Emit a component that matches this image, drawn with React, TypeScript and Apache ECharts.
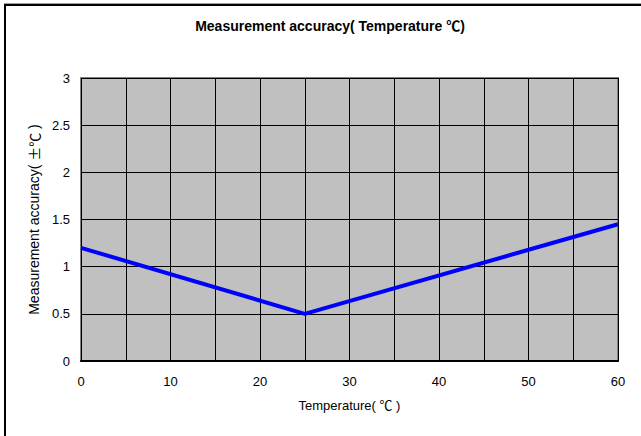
import React, { useEffect, useRef } from "react";
import * as echarts from "echarts";

const temps = [0, 25, 60];
const accuracy = [1.2, 0.5, 1.45];
const title = "Measurement accuracy( Temperature ℃)";
const xName = "Temperature( ℃ )";
const yNameMain = "Measurement accuracy( ";
const yNameUnit = "±℃";
const yNameEnd = " )";

const FONT = "'Liberation Sans', 'Noto Sans CJK JP', sans-serif";
const CJK = "'Noto Sans CJK JP', sans-serif";

export default function App() {
  const ref = useRef<HTMLDivElement>(null);
  useEffect(() => {
    const chart = echarts.init(ref.current!, null, { renderer: "svg" });
    chart.setOption({
      animation: false,
      backgroundColor: "#ffffff",
      title: {
        text: title,
        left: 325,
        top: 14,
        textAlign: "center",
        textStyle: { fontFamily: FONT, fontSize: 14, fontWeight: "bold", color: "#000" },
      },
      graphic: [
        { type: "line", shape: { x1: 4, y1: 3.5, x2: 641, y2: 3.5 }, style: { stroke: "#a0a0a0", lineWidth: 1 } },
        { type: "line", shape: { x1: 4, y1: 5, x2: 641, y2: 5 }, style: { stroke: "#000", lineWidth: 2 } },
        { type: "line", shape: { x1: 5, y1: 4, x2: 5, y2: 436 }, style: { stroke: "#000", lineWidth: 2 } },
      ],
      grid: {
        left: 81,
        top: 78,
        right: 23,
        bottom: 75,
        show: true,
        backgroundColor: "#c0c0c0",
        borderColor: "#808080",
        borderWidth: 2,
      },
      xAxis: {
        type: "value",
        min: 0,
        max: 60,
        interval: 5,
        name: xName,
        nameLocation: "middle",
        nameGap: 38,
        nameTextStyle: { fontFamily: FONT, fontSize: 13, color: "#000" },
        axisLine: { show: true, onZero: false, lineStyle: { color: "#000", width: 2 } },
        axisTick: { show: false },
        axisLabel: {
          margin: 14,
          fontFamily: FONT,
          fontSize: 13,
          color: "#000",
          formatter: (v: number) => (v % 10 === 0 ? String(v) : ""),
        },
        splitLine: { show: true, lineStyle: { color: "#000", width: 1 } },
      },
      yAxis: {
        type: "value",
        min: 0,
        max: 3,
        interval: 0.5,
        name: yNameMain + "{u|" + yNameUnit + "}" + yNameEnd,
        nameLocation: "middle",
        nameGap: 37,
        nameTextStyle: {
          fontFamily: FONT,
          fontSize: 14,
          color: "#000",
          rich: { u: { fontFamily: CJK, fontSize: 14, color: "#000" } },
        },
        axisLine: { show: false },
        axisTick: { show: false },
        axisLabel: { margin: 11, fontFamily: FONT, fontSize: 13, color: "#000" },
        splitLine: { show: true, lineStyle: { color: "#000", width: 1 } },
      },
      series: [
        {
          type: "line",
          data: temps.map((t, i) => [t, accuracy[i]]),
          symbol: "none",
          lineStyle: { color: "#0000ff", width: 4 },
        },
      ],
    });
    return () => chart.dispose();
  }, []);
  return <div ref={ref} style={{ width: 641, height: 436, position: "absolute", left: 0, top: 0 }} />;
}
